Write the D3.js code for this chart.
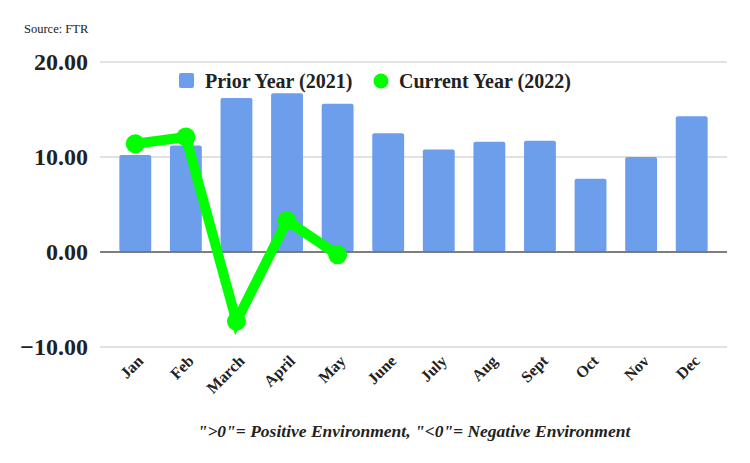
<!DOCTYPE html>
<meta charset="utf-8">
<script src="https://d3js.org/d3.v7.min.js"></script>
<style>
  body { margin: 0; background: #fff; }
  text { font-family: "Liberation Serif", "DejaVu Serif", serif; fill: #222; }
</style>
<div id="chart"></div>
<script>
// data
var months = ["Jan", "Feb", "March", "April", "May", "June", "July", "Aug", "Sept", "Oct", "Nov", "Dec"];
var priorYear = [10.2, 11.2, 16.2, 16.7, 15.6, 12.5, 10.8, 11.6, 11.7, 7.7, 10.0, 14.3];
var currentYear = [11.4, 12.1, -7.3, 3.3, -0.3];
var yTicks = [-10, 0, 10, 20];

var W = 750, H = 463;
var svg = d3.select("#chart").append("svg")
  .attr("width", W).attr("height", H);

var y = d3.scaleLinear().domain([-10, 20]).range([347, 62]);
var x = d3.scaleBand().domain(months).range([110, 717]).paddingInner(0.37).paddingOuter(0.185);
var gridLeft = 100, gridRight = 727;

// gridlines
svg.append("g").selectAll("line")
  .data(yTicks)
  .enter().append("line")
    .attr("x1", gridLeft).attr("x2", gridRight)
    .attr("y1", function(d) { return y(d); })
    .attr("y2", function(d) { return y(d); })
    .attr("stroke", function(d) { return d === 0 ? "#555" : "#d9d9d9"; })
    .attr("stroke-width", function(d) { return d === 0 ? 1.2 : 1.5; });

// y axis labels
svg.append("g").selectAll("text")
  .data(yTicks)
  .enter().append("text")
    .attr("x", 88)
    .attr("y", function(d) { return y(d); })
    .attr("dy", "0.35em")
    .attr("text-anchor", "end")
    .style("font-size", "24px")
    .style("font-weight", "bold")
    .text(function(d) { return d3.format(".2f")(d); });

// bars
svg.append("g").selectAll("rect")
  .data(priorYear)
  .enter().append("rect")
    .attr("x", function(d, i) { return x(months[i]); })
    .attr("y", function(d) { return y(d); })
    .attr("width", x.bandwidth())
    .attr("height", function(d) { return y(0) - y(d); })
    .attr("rx", 2)
    .attr("fill", "#6d9eeb");

// redraw zero line over bars
svg.append("line")
  .attr("x1", gridLeft).attr("x2", gridRight)
  .attr("y1", y(0)).attr("y2", y(0))
  .attr("stroke", "#555").attr("stroke-width", 1.2);

// current year line
var cx = function(d, i) { return x(months[i]) + x.bandwidth() / 2; };
var line = d3.line().x(cx).y(function(d) { return y(d); });
svg.append("path")
  .datum(currentYear)
  .attr("d", line)
  .attr("fill", "none")
  .attr("stroke", "#00ff00")
  .attr("stroke-width", 10)
  .attr("stroke-linejoin", "miter");

svg.append("g").selectAll("circle")
  .data(currentYear)
  .enter().append("circle")
    .attr("cx", cx)
    .attr("cy", function(d) { return y(d); })
    .attr("r", 9.5)
    .attr("fill", "#00ff00");

// x labels
svg.append("g").selectAll("text")
  .data(months)
  .enter().append("text")
    .attr("transform", function(d) {
      return "translate(" + (x(d) + x.bandwidth() / 2 + 9) + ",362)rotate(-45)";
    })
    .attr("text-anchor", "end")
    .style("font-size", "16px")
    .style("font-weight", "bold")
    .text(function(d) { return d; });

// legend
var legend = svg.append("g");
legend.append("rect")
  .attr("x", 179).attr("y", 73).attr("width", 15).attr("height", 15)
  .attr("rx", 2).attr("fill", "#6d9eeb");
legend.append("text")
  .attr("x", 205).attr("y", 81).attr("dy", "0.35em")
  .style("font-size", "20px").style("font-weight", "bold")
  .text("Prior Year (2021)");
legend.append("circle")
  .attr("cx", 381).attr("cy", 81).attr("r", 7.5).attr("fill", "#00ff00");
legend.append("text")
  .attr("x", 399).attr("y", 81).attr("dy", "0.35em")
  .style("font-size", "20px").style("font-weight", "bold")
  .text("Current Year (2022)");

// source + footnote
svg.append("text")
  .attr("x", 24).attr("y", 33)
  .style("font-size", "12.5px")
  .text("Source: FTR");

svg.append("text")
  .attr("x", 414).attr("y", 437)
  .attr("text-anchor", "middle")
  .style("font-size", "17.5px")
  .style("font-weight", "bold")
  .style("font-style", "italic")
  .text("\">0\"= Positive Environment, \"<0\"= Negative Environment");
</script>
